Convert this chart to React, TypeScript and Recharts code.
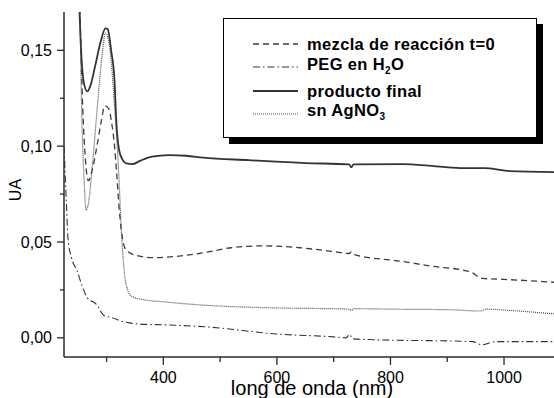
import React from 'react';
import { LineChart, Line, XAxis, YAxis } from 'recharts';

// wavelength (nm) / absorbance (UA)
const mezclaNm = [240, 253, 258, 263, 268, 275, 283, 290, 297, 303, 309, 314, 318, 322, 326, 332, 340, 360, 380, 400, 463, 520, 575, 640, 700, 727, 731, 735, 817, 870, 940, 962, 1000, 1088];
const mezclaUA = [0.25, 0.17, 0.12, 0.092, 0.082, 0.088, 0.1, 0.112, 0.121, 0.12, 0.112, 0.1, 0.085, 0.068, 0.056, 0.047, 0.0445, 0.0425, 0.0418, 0.042, 0.044, 0.047, 0.048, 0.047, 0.045, 0.044, 0.0448, 0.0435, 0.04, 0.0375, 0.0345, 0.031, 0.0305, 0.029];

const pegNm = [225, 229, 232, 238, 248, 257, 266, 282, 296, 310, 325, 340, 370, 400, 476, 600, 700, 722, 728, 733, 800, 900, 945, 960, 985, 1088];
const pegUA = [0.1, 0.072, 0.052, 0.042, 0.035, 0.027, 0.021, 0.0175, 0.0115, 0.0105, 0.0088, 0.0078, 0.007, 0.0068, 0.0057, 0.002, 0.0005, 0.0, 0.0018, -0.0005, -0.0012, -0.0016, -0.002, -0.0036, -0.002, -0.002];

const productoNm = [240, 252, 256, 260, 266, 272, 280, 290, 298, 302, 308, 314, 317, 322, 328, 335, 345, 360, 380, 410, 440, 470, 550, 650, 727, 731, 735, 820, 880, 930, 965, 1010, 1088];
const productoUA = [0.25, 0.172, 0.145, 0.133, 0.1286, 0.132, 0.142, 0.155, 0.1615, 0.161, 0.15, 0.134, 0.1135, 0.098, 0.093, 0.091, 0.0906, 0.0925, 0.0945, 0.0953, 0.095, 0.094, 0.0927, 0.0912, 0.0905, 0.089, 0.0905, 0.0906, 0.0895, 0.0885, 0.0885, 0.087, 0.0865];

const agNm = [240, 253, 256, 260, 264, 268, 275, 285, 293, 298, 302, 308, 313, 317, 322, 326, 331, 337, 345, 367, 400, 463, 600, 727, 731, 736, 820, 900, 958, 970, 1000, 1088];
const agUA = [0.25, 0.17, 0.12, 0.085, 0.0667, 0.07, 0.09, 0.125, 0.15, 0.159, 0.157, 0.145, 0.125, 0.108, 0.082, 0.056, 0.035, 0.025, 0.0215, 0.0198, 0.0188, 0.0172, 0.0156, 0.015, 0.0143, 0.0152, 0.0149, 0.0147, 0.014, 0.015, 0.0145, 0.0125];

const xTicks = [300, 400, 500, 600, 700, 800, 900, 1000];
const yTicks = [0, 0.025, 0.05, 0.075, 0.1, 0.125, 0.15];

const toPoints = (xs: number[], ys: number[]) => xs.map((x, i) => ({ x, y: ys[i] }));

const FONT = '"Liberation Sans", Arial, sans-serif';
const AXIS = '#2a2a2a';

const BottomTick = (props: any) => {
  const { x, y, payload } = props;
  const major = payload.value % 200 === 0;
  return (
    <g>
      <line x1={x} x2={x} y1={y} y2={y + (major ? 8 : 5)} stroke={AXIS} strokeWidth={1.3} />
      {major && (
        <text x={x} y={y + 26} textAnchor="middle" fontSize={16} fontFamily={FONT} fill="#000">
          {payload.value}
        </text>
      )}
    </g>
  );
};

const TopTick = (props: any) => {
  const { x, y } = props;
  return <line x1={x} x2={x} y1={y} y2={y - 3} stroke={AXIS} strokeWidth={1.3} />;
};

const LeftTick = (props: any) => {
  const { x, y, payload } = props;
  const major = Math.round(payload.value * 1000) % 50 === 0;
  return (
    <g>
      <line x1={x - (major ? 7 : 4)} x2={x} y1={y} y2={y} stroke={AXIS} strokeWidth={1.3} />
      {major && (
        <text x={x - 12} y={y} dy="0.35em" textAnchor="end" fontSize={16} fontFamily={FONT} fill="#000">
          {payload.value.toFixed(2).replace('.', ',')}
        </text>
      )}
    </g>
  );
};

const series = [
  { name: 'mezcla', data: toPoints(mezclaNm, mezclaUA), dash: '6 4', width: 1.3, color: '#3c3c3c' },
  { name: 'peg', data: toPoints(pegNm, pegUA), dash: '7 3 1.5 3', width: 1.1, color: '#333' },
  { name: 'producto', data: toPoints(productoNm, productoUA), dash: undefined, width: 1.8, color: '#333' },
  { name: 'ag', data: toPoints(agNm, agUA), dash: '1 1', width: 1.2, color: '#4a4a4a' },
];

const Sample = ({ dash, width, color }: { dash?: string; width: number; color: string }) => (
  <svg width={45} height={6} style={{ display: 'block' }}>
    <line x1={0} x2={45} y1={3} y2={3} stroke={color} strokeWidth={width} strokeDasharray={dash} />
  </svg>
);

const subStyle = { fontSize: 10, verticalAlign: -4 };

const legendRows = [
  { s: series[0], label: <>mezcla de reacción t=0</> },
  { s: series[1], label: <>PEG en H<sub style={subStyle}>2</sub>O</> },
  { s: series[2], label: <>producto final</> },
  { s: series[3], label: <>sn AgNO<sub style={subStyle}>3</sub></> },
];

export default function App() {
  return (
    <div style={{ position: 'absolute', left: 0, top: 0, width: 554, height: 398, background: '#fff', fontFamily: FONT }}>
      <LineChart width={554} height={398} margin={{ top: 12, right: 0, bottom: 0, left: 0 }}>
        <XAxis
          dataKey="x"
          type="number"
          domain={[225, 1088]}
          allowDataOverflow
          ticks={xTicks}
          interval={0}
          height={41}
          tickSize={0}
          tickMargin={0}
          tick={<BottomTick />}
          axisLine={{ stroke: AXIS, strokeWidth: 1.5 }}
        />
        <XAxis
          xAxisId="top"
          orientation="top"
          dataKey="x"
          type="number"
          domain={[225, 1088]}
          allowDataOverflow
          ticks={xTicks}
          interval={0}
          height={0}
          tickSize={0}
          tickMargin={0}
          tick={<TopTick />}
          axisLine={{ stroke: AXIS, strokeWidth: 1.5 }}
        />
        <YAxis
          type="number"
          domain={[-0.01, 0.17]}
          allowDataOverflow
          ticks={yTicks}
          interval={0}
          width={64}
          tickSize={0}
          tickMargin={0}
          tick={<LeftTick />}
          axisLine={{ stroke: AXIS, strokeWidth: 1.5 }}
        />
        {series.map((s) => (
          <Line
            key={s.name}
            data={s.data}
            dataKey="y"
            type="monotone"
            dot={false}
            activeDot={false}
            stroke={s.color}
            strokeWidth={s.width}
            strokeDasharray={s.dash}
            isAnimationActive={false}
          />
        ))}
        <text x={312} y={395} textAnchor="middle" fontSize={20} fontFamily={FONT} fill="#000">
          long de onda (nm)
        </text>
        <text x={21} y={190} textAnchor="middle" fontSize={16} fontFamily={FONT} fill="#000" transform="rotate(-90 21 190)">
          UA
        </text>
      </LineChart>

      <div
        style={{
          position: 'absolute',
          left: 223,
          top: 18,
          width: 312,
          height: 118,
          border: '1px solid #000',
          background: '#fff',
          boxShadow: '6px 6px 0 #000',
        }}
      >
        {legendRows.map((r, i) => (
          <div
            key={i}
            style={{
              position: 'absolute',
              left: 29,
              top: 25 + i * 23.3 - 10,
              height: 20,
              display: 'flex',
              alignItems: 'center',
              whiteSpace: 'nowrap',
            }}
          >
            <Sample dash={r.s.dash} width={r.s.width} color={r.s.color} />
            <span style={{ marginLeft: 9, fontSize: 16.5, letterSpacing: 0.35, fontWeight: 'bold', color: '#000', lineHeight: '20px' }}>
              {r.label}
            </span>
          </div>
        ))}
      </div>
    </div>
  );
}
